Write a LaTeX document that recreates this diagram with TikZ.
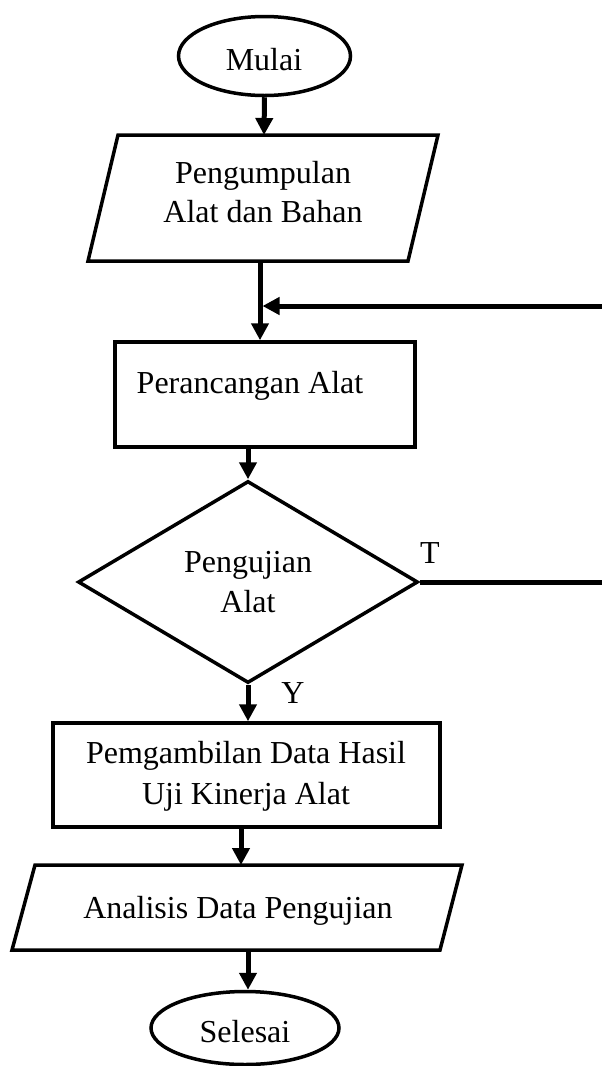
\documentclass[tikz,border=0pt]{standalone}
\usepackage{fontspec}
\setmainfont{Liberation Serif}
\usetikzlibrary{arrows.meta,shapes.geometric}
\begin{document}
\begin{tikzpicture}[x=1pt,y=-1pt,
  shapeline/.style={draw=black,line width=3.5pt,line join=miter},
  flow/.style={draw=black,line width=5pt,-{Triangle[length=17pt,width=17pt]}},
  plainline/.style={draw=black,line width=5pt},
  txt/.style={font=\fontsize{32}{39}\selectfont,inner sep=0pt,anchor=base},
  term/.style={ellipse,draw=black,line width=3.5pt,inner sep=0pt},
  box/.style={rectangle,draw=black,line width=3.5pt,inner sep=0pt},
  dec/.style={diamond,draw=black,line width=3.5pt,inner sep=0pt}]
\useasboundingbox (0,0) rectangle (602,1066);

% Start
\node[term,minimum width=172,minimum height=79] (start) at (264.5,56) {};
\node[txt] (tstart) at (264,70) {Mulai};

% Parallelogram 1
\draw[shapeline] (118,135) -- (438,135) -- (408,261) -- (88,261) -- cycle;
\coordinate (p1top) at (264,135);
\coordinate (p1bot) at (260,261);
\node[txt] (tp1a) at (263,183) {Pengumpulan};
\node[txt] (tp1b) at (263,222) {Alat dan Bahan};

% Rectangle 1
\node[box,minimum width=300,minimum height=105] (r1) at (265,394.5) {};
\node[txt] (tr1) at (250,393) {Perancangan Alat};

% Decision
\node[dec,minimum width=340,minimum height=202] (dia) at (248,582) {};
\node[txt] (tdia1) at (248,572) {Pengujian};
\node[txt] (tdia2) at (248,612) {Alat};
\node[txt] (tT) at (430,563) {T};
\node[txt] (tY) at (293,703) {Y};

% Rectangle 2
\node[box,minimum width=387,minimum height=104] (r2) at (246.5,775) {};
\node[txt] (tr2a) at (246,763) {Pemgambilan Data Hasil};
\node[txt] (tr2b) at (246,804) {Uji Kinerja Alat};

% Parallelogram 2
\draw[shapeline] (35,865) -- (462,865) -- (440,950) -- (12,950) -- cycle;
\coordinate (p2top) at (241,865);
\coordinate (p2bot) at (248,950);
\node[txt] (tp2) at (238,918) {Analisis Data Pengujian};

% End
\node[term,minimum width=188,minimum height=73] (stop) at (245,1028) {};
\node[txt] (tstop) at (245,1042) {Selesai};

% Feedback and T-branch free ends
\coordinate (fbstart) at (602,306);
\coordinate (fbend) at (262.5,306);
\coordinate (tend) at (602,582);

% Connectors
\draw[flow] (start.south) -- (p1top);
\draw[flow] (p1bot) -- (p1bot |- r1.north);
\draw[flow] (fbstart) -- (fbend);
\draw[flow] (dia.north |- r1.south) -- (dia.north);
\draw[plainline] (dia.east) -- (tend);
\draw[flow] (dia.south) -- (dia.south |- r2.north);
\draw[flow] (r2.south -| p2top) -- (p2top);
\draw[flow] (p2bot) -- (p2bot |- stop.north);
\end{tikzpicture}
\end{document}
